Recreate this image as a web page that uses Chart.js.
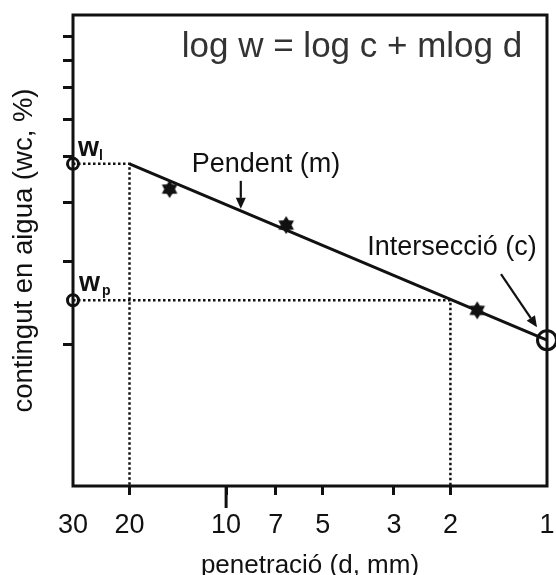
<!DOCTYPE html>
<html>
<head>
<meta charset="utf-8">
<script src="https://cdn.jsdelivr.net/npm/chart.js"></script>
<style>
  html, body { margin: 0; padding: 0; background: #fff; }
  #wrap { width: 556px; height: 575px; }
</style>
</head>
<body>
<div id="wrap"><canvas id="chart" width="556" height="575"></canvas></div>
<script>
// x: penetració d (mm), y: contingut en aigua w (%)
const xTicks = [30, 20, 10, 7, 5, 3, 2, 1];
const yTicks = [20, 30, 40, 50, 60, 70, 80, 90];

const fitLine = [{ x: 20, y: 48.3 }, { x: 1, y: 20.4 }];
const measured = [{ x: 15, y: 42.7 }, { x: 6.5, y: 35.8 }, { x: 1.65, y: 23.6 }];
const wl = 48.3;   // límit líquid
const wp = 24.8;   // límit plàstic
const dL = 20;     // penetració al límit líquid
const dP = 2;      // penetració al límit plàstic
const intercept = { x: 1, y: 20.4 };
const slopeArrowAt = 9;

const ink = "#111";
const FONT = "'Liberation Sans', Arial, sans-serif";

function makeStar(r) {
  const c = document.createElement("canvas");
  c.width = c.height = r * 2 + 2;
  const g = c.getContext("2d");
  g.translate(r + 1, r + 1);
  g.beginPath();
  for (let i = 0; i < 12; i++) {
    const a = i * Math.PI / 6 - Math.PI / 2;
    const rr = i % 2 === 0 ? r : r * 0.6;
    g.lineTo(rr * Math.cos(a), rr * Math.sin(a));
  }
  g.closePath();
  g.fillStyle = ink;
  g.fill();
  return c;
}

function arrow(ctx, x1, y1, x2, y2) {
  const ang = Math.atan2(y2 - y1, x2 - x1);
  const hl = 11, hw = 5;
  ctx.beginPath();
  ctx.moveTo(x1, y1);
  ctx.lineTo(x2 - hl * Math.cos(ang), y2 - hl * Math.sin(ang));
  ctx.stroke();
  ctx.beginPath();
  ctx.moveTo(x2, y2);
  ctx.lineTo(x2 - hl * Math.cos(ang) + hw * Math.sin(ang), y2 - hl * Math.sin(ang) - hw * Math.cos(ang));
  ctx.lineTo(x2 - hl * Math.cos(ang) - hw * Math.sin(ang), y2 - hl * Math.sin(ang) + hw * Math.cos(ang));
  ctx.closePath();
  ctx.fill();
}

function fitAt(d) {
  const m = Math.log10(fitLine[0].y / fitLine[1].y) / Math.log10(fitLine[0].x / fitLine[1].x);
  return Math.pow(10, Math.log10(fitLine[1].y) + m * Math.log10(d / fitLine[1].x));
}

const decor = {
  id: "decor",
  afterDatasetsDraw(chart) {
    const { ctx, chartArea: a, scales: { x, y } } = chart;
    ctx.save();
    ctx.strokeStyle = ink;
    ctx.fillStyle = ink;
    // frame
    ctx.lineWidth = 3;
    ctx.strokeRect(a.left, a.top, a.right - a.left, a.bottom - a.top);
    // longer tick at 10
    const x10 = x.getPixelForValue(10);
    ctx.beginPath();
    ctx.moveTo(x10, a.bottom);
    ctx.lineTo(x10, a.bottom + 22);
    ctx.stroke();

    // texts
    ctx.textAlign = "center";
    ctx.textBaseline = "middle";
    ctx.fillStyle = "#333";
    ctx.font = "35px " + FONT;
    ctx.fillText("log w = log c + mlog d", 352, 47);
    ctx.fillStyle = ink;
    ctx.font = "27px " + FONT;
    ctx.fillText("Pendent (m)", 266, 165);
    ctx.fillText("Intersecció (c)", 452, 248);

    // w_l, w_p labels
    ctx.textAlign = "left";
    ctx.textBaseline = "alphabetic";
    const yl = y.getPixelForValue(wl), yp = y.getPixelForValue(wp);
    ctx.font = "bold 27px " + FONT;
    ctx.fillText("w", 78, yl - 8);
    ctx.fillText("w", 79, yp - 9);
    ctx.font = "bold 14px " + FONT;
    ctx.fillText("l", 99, yl - 4);
    ctx.fillText("p", 102, yp - 5);

    // arrows
    ctx.lineWidth = 2.2;
    const sx = x.getPixelForValue(slopeArrowAt);
    const sy = y.getPixelForValue(fitAt(slopeArrowAt));
    arrow(ctx, sx, sy - 30, sx, sy - 2);
    const cx = x.getPixelForValue(intercept.x), cy = y.getPixelForValue(intercept.y);
    arrow(ctx, cx - 46, cy - 66, cx - 10, cy - 13);
    ctx.restore();
  }
};

const dotted = { borderColor: ink, borderWidth: 2.5, borderDash: [2.5, 2.5], pointRadius: 0, showLine: true, fill: false, clip: false };

new Chart(document.getElementById("chart").getContext("2d"), {
  type: "scatter",
  data: {
    datasets: [
      Object.assign({ data: [{ x: 30, y: wl }, { x: dL, y: wl }, { x: dL, y: 10 }] }, dotted),
      Object.assign({ data: [{ x: 30, y: wp }, { x: dP, y: wp }, { x: dP, y: 10 }] }, dotted),
      { data: fitLine, showLine: true, borderColor: ink, borderWidth: 3, pointRadius: 0 },
      { data: measured, pointStyle: makeStar(9), pointRadius: 9 },
      { data: [{ x: 30, y: wl }, { x: 30, y: wp }], pointRadius: 5.5, borderWidth: 3, pointBorderWidth: 3,
        borderColor: ink, pointBorderColor: ink, backgroundColor: "#fff", pointBackgroundColor: "#fff", clip: false },
      { data: [intercept], pointRadius: 9.5, borderWidth: 3, pointBorderWidth: 3, borderColor: ink,
        pointBorderColor: ink, backgroundColor: "rgba(0,0,0,0)", pointBackgroundColor: "rgba(0,0,0,0)", clip: false }
    ]
  },
  options: {
    responsive: false,
    animation: false,
    events: [],
    layout: { padding: { top: 15, right: 9, left: 0, bottom: 0 } },
    plugins: { legend: { display: false }, tooltip: { enabled: false } },
    scales: {
      x: {
        type: "logarithmic",
        reverse: true,
        min: 1,
        max: 30,
        afterBuildTicks: s => { s.ticks = xTicks.map(v => ({ value: v })); },
        afterFit: s => { s.height = 89; s.paddingLeft = 0; s.paddingRight = 0; },
        border: { display: false },
        grid: {
          drawOnChartArea: false,
          tickLength: 9,
          lineWidth: 3,
          tickColor: c => (c.tick && (c.tick.value === 30 || c.tick.value === 1)) ? "rgba(0,0,0,0)" : ink
        },
        ticks: {
          autoSkip: false, maxRotation: 0, padding: 14, color: ink,
          font: { family: FONT, size: 27 },
          callback: v => String(v)
        },
        title: {
          display: true, text: "penetració (d, mm)", color: ink,
          font: { family: FONT, size: 26, lineHeight: 1 },
          padding: { top: 0, bottom: -4 }
        }
      },
      y: {
        type: "logarithmic",
        min: 10,
        max: 100,
        afterBuildTicks: s => { s.ticks = yTicks.map(v => ({ value: v })); },
        afterFit: s => { s.width = 73; s.paddingTop = 0; s.paddingBottom = 0; },
        afterUpdate: s => { },
        border: { display: false },
        grid: { drawOnChartArea: false, tickLength: 10, lineWidth: 3, color: ink },
        ticks: { display: false },
        title: {
          display: true, text: "contingut en aigua (wc, %)", color: ink,
          font: { family: FONT, size: 27.5, lineHeight: 1 },
          padding: { top: 11, bottom: 0 }
        }
      }
    }
  },
  plugins: [decor, {
    id: "edge",
    // the x scale keeps room for its last label; pin the plot edges to the reference
    afterLayout(chart) {
      const a = chart.chartArea, x = chart.scales.x;
      const right = chart.width - 9;
      a.right = right;
      a.width = right - a.left;
      x.right = right;
      x.width = right - x.left;
      x.configure();
    }
  }]
});
</script>
</body>
</html>
